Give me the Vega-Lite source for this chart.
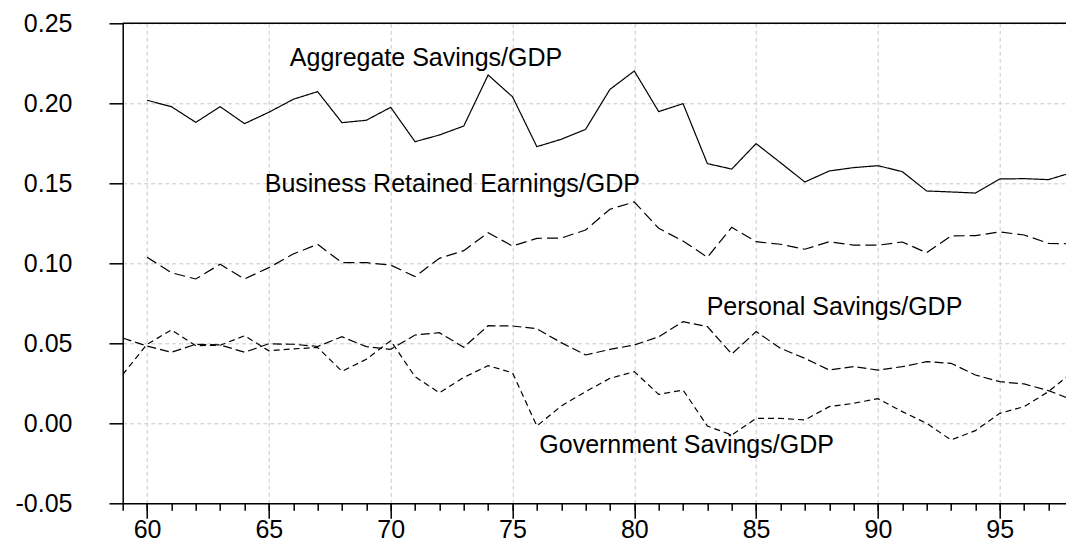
{
  "$schema": "https://vega.github.io/schema/vega-lite/v6.json",
  "width": 943.3,
  "height": 480,
  "autosize": {"type": "none"},
  "padding": {"left": 122.7, "top": 23.3, "right": 0, "bottom": 39.7},
  "background": "white",
  "config": {
    "view": {"stroke": null},
    "axis": {
      "labelFont": "Liberation Sans",
      "labelFontSize": 25,
      "labelColor": "black",
      "domainColor": "black",
      "domainWidth": 1.5,
      "tickColor": "black",
      "tickWidth": 1.5,
      "title": null
    }
  },
  "datasets": {
    "series": [
      {"year": 60, "series": "Aggregate", "value": 0.2019},
      {"year": 61, "series": "Aggregate", "value": 0.1979},
      {"year": 62, "series": "Aggregate", "value": 0.1881},
      {"year": 63, "series": "Aggregate", "value": 0.1979},
      {"year": 64, "series": "Aggregate", "value": 0.1873},
      {"year": 65, "series": "Aggregate", "value": 0.1944},
      {"year": 66, "series": "Aggregate", "value": 0.2025},
      {"year": 67, "series": "Aggregate", "value": 0.2073},
      {"year": 68, "series": "Aggregate", "value": 0.1879},
      {"year": 69, "series": "Aggregate", "value": 0.1894},
      {"year": 70, "series": "Aggregate", "value": 0.1975},
      {"year": 71, "series": "Aggregate", "value": 0.1760},
      {"year": 72, "series": "Aggregate", "value": 0.1802},
      {"year": 73, "series": "Aggregate", "value": 0.1858},
      {"year": 74, "series": "Aggregate", "value": 0.2177},
      {"year": 75, "series": "Aggregate", "value": 0.2041},
      {"year": 76, "series": "Aggregate", "value": 0.1729},
      {"year": 77, "series": "Aggregate", "value": 0.1775},
      {"year": 78, "series": "Aggregate", "value": 0.1837},
      {"year": 79, "series": "Aggregate", "value": 0.2087},
      {"year": 80, "series": "Aggregate", "value": 0.2202},
      {"year": 81, "series": "Aggregate", "value": 0.1948},
      {"year": 82, "series": "Aggregate", "value": 0.1998},
      {"year": 83, "series": "Aggregate", "value": 0.1623},
      {"year": 84, "series": "Aggregate", "value": 0.1589},
      {"year": 85, "series": "Aggregate", "value": 0.1748},
      {"year": 86, "series": "Aggregate", "value": 0.1629},
      {"year": 87, "series": "Aggregate", "value": 0.1508},
      {"year": 88, "series": "Aggregate", "value": 0.1577},
      {"year": 89, "series": "Aggregate", "value": 0.1598},
      {"year": 90, "series": "Aggregate", "value": 0.1610},
      {"year": 91, "series": "Aggregate", "value": 0.1573},
      {"year": 92, "series": "Aggregate", "value": 0.1452},
      {"year": 93, "series": "Aggregate", "value": 0.1446},
      {"year": 94, "series": "Aggregate", "value": 0.1439},
      {"year": 95, "series": "Aggregate", "value": 0.1527},
      {"year": 96, "series": "Aggregate", "value": 0.1529},
      {"year": 97, "series": "Aggregate", "value": 0.1523},
      {"year": 98, "series": "Aggregate", "value": 0.1569},
      {"year": 60, "series": "Business", "value": 0.1038},
      {"year": 61, "series": "Business", "value": 0.0941},
      {"year": 62, "series": "Business", "value": 0.0902},
      {"year": 63, "series": "Business", "value": 0.0994},
      {"year": 64, "series": "Business", "value": 0.0902},
      {"year": 65, "series": "Business", "value": 0.0973},
      {"year": 66, "series": "Business", "value": 0.1058},
      {"year": 67, "series": "Business", "value": 0.1119},
      {"year": 68, "series": "Business", "value": 0.1004},
      {"year": 69, "series": "Business", "value": 0.1004},
      {"year": 70, "series": "Business", "value": 0.0989},
      {"year": 71, "series": "Business", "value": 0.0917},
      {"year": 72, "series": "Business", "value": 0.1031},
      {"year": 73, "series": "Business", "value": 0.1079},
      {"year": 74, "series": "Business", "value": 0.1191},
      {"year": 75, "series": "Business", "value": 0.1108},
      {"year": 76, "series": "Business", "value": 0.1156},
      {"year": 77, "series": "Business", "value": 0.1158},
      {"year": 78, "series": "Business", "value": 0.1208},
      {"year": 79, "series": "Business", "value": 0.1338},
      {"year": 80, "series": "Business", "value": 0.1383},
      {"year": 81, "series": "Business", "value": 0.1219},
      {"year": 82, "series": "Business", "value": 0.1139},
      {"year": 83, "series": "Business", "value": 0.1038},
      {"year": 84, "series": "Business", "value": 0.1225},
      {"year": 85, "series": "Business", "value": 0.1135},
      {"year": 86, "series": "Business", "value": 0.1119},
      {"year": 87, "series": "Business", "value": 0.1088},
      {"year": 88, "series": "Business", "value": 0.1135},
      {"year": 89, "series": "Business", "value": 0.1114},
      {"year": 90, "series": "Business", "value": 0.1113},
      {"year": 91, "series": "Business", "value": 0.1133},
      {"year": 92, "series": "Business", "value": 0.1066},
      {"year": 93, "series": "Business", "value": 0.1171},
      {"year": 94, "series": "Business", "value": 0.1173},
      {"year": 95, "series": "Business", "value": 0.1196},
      {"year": 96, "series": "Business", "value": 0.1177},
      {"year": 97, "series": "Business", "value": 0.1125},
      {"year": 98, "series": "Business", "value": 0.1121},
      {"year": 59, "series": "Personal", "value": 0.0533},
      {"year": 60, "series": "Personal", "value": 0.0483},
      {"year": 61, "series": "Personal", "value": 0.0444},
      {"year": 62, "series": "Personal", "value": 0.0494},
      {"year": 63, "series": "Personal", "value": 0.0490},
      {"year": 64, "series": "Personal", "value": 0.0444},
      {"year": 65, "series": "Personal", "value": 0.0497},
      {"year": 66, "series": "Personal", "value": 0.0494},
      {"year": 67, "series": "Personal", "value": 0.0480},
      {"year": 68, "series": "Personal", "value": 0.0541},
      {"year": 69, "series": "Personal", "value": 0.0479},
      {"year": 70, "series": "Personal", "value": 0.0462},
      {"year": 71, "series": "Personal", "value": 0.0552},
      {"year": 72, "series": "Personal", "value": 0.0566},
      {"year": 73, "series": "Personal", "value": 0.0475},
      {"year": 74, "series": "Personal", "value": 0.0610},
      {"year": 75, "series": "Personal", "value": 0.0608},
      {"year": 76, "series": "Personal", "value": 0.0591},
      {"year": 77, "series": "Personal", "value": 0.0504},
      {"year": 78, "series": "Personal", "value": 0.0427},
      {"year": 79, "series": "Personal", "value": 0.0462},
      {"year": 80, "series": "Personal", "value": 0.0489},
      {"year": 81, "series": "Personal", "value": 0.0541},
      {"year": 82, "series": "Personal", "value": 0.0635},
      {"year": 83, "series": "Personal", "value": 0.0604},
      {"year": 84, "series": "Personal", "value": 0.0433},
      {"year": 85, "series": "Personal", "value": 0.0573},
      {"year": 86, "series": "Personal", "value": 0.0469},
      {"year": 87, "series": "Personal", "value": 0.0406},
      {"year": 88, "series": "Personal", "value": 0.0333},
      {"year": 89, "series": "Personal", "value": 0.0354},
      {"year": 90, "series": "Personal", "value": 0.0333},
      {"year": 91, "series": "Personal", "value": 0.0354},
      {"year": 92, "series": "Personal", "value": 0.0385},
      {"year": 93, "series": "Personal", "value": 0.0375},
      {"year": 94, "series": "Personal", "value": 0.0302},
      {"year": 95, "series": "Personal", "value": 0.0260},
      {"year": 96, "series": "Personal", "value": 0.0246},
      {"year": 97, "series": "Personal", "value": 0.0204},
      {"year": 98, "series": "Personal", "value": 0.0146},
      {"year": 59, "series": "Government", "value": 0.0305},
      {"year": 60, "series": "Government", "value": 0.0494},
      {"year": 61, "series": "Government", "value": 0.0583},
      {"year": 62, "series": "Government", "value": 0.0485},
      {"year": 63, "series": "Government", "value": 0.0488},
      {"year": 64, "series": "Government", "value": 0.0547},
      {"year": 65, "series": "Government", "value": 0.0453},
      {"year": 66, "series": "Government", "value": 0.0465},
      {"year": 67, "series": "Government", "value": 0.0474},
      {"year": 68, "series": "Government", "value": 0.0325},
      {"year": 69, "series": "Government", "value": 0.0400},
      {"year": 70, "series": "Government", "value": 0.0516},
      {"year": 71, "series": "Government", "value": 0.0291},
      {"year": 72, "series": "Government", "value": 0.0191},
      {"year": 73, "series": "Government", "value": 0.0287},
      {"year": 74, "series": "Government", "value": 0.0360},
      {"year": 75, "series": "Government", "value": 0.0316},
      {"year": 76, "series": "Government", "value": -0.0017},
      {"year": 77, "series": "Government", "value": 0.0108},
      {"year": 78, "series": "Government", "value": 0.0198},
      {"year": 79, "series": "Government", "value": 0.0281},
      {"year": 80, "series": "Government", "value": 0.0323},
      {"year": 81, "series": "Government", "value": 0.0181},
      {"year": 82, "series": "Government", "value": 0.0208},
      {"year": 83, "series": "Government", "value": -0.0017},
      {"year": 84, "series": "Government", "value": -0.0073},
      {"year": 85, "series": "Government", "value": 0.0031},
      {"year": 86, "series": "Government", "value": 0.0031},
      {"year": 87, "series": "Government", "value": 0.0021},
      {"year": 88, "series": "Government", "value": 0.0104},
      {"year": 89, "series": "Government", "value": 0.0125},
      {"year": 90, "series": "Government", "value": 0.0154},
      {"year": 91, "series": "Government", "value": 0.0073},
      {"year": 92, "series": "Government", "value": 0.0000},
      {"year": 93, "series": "Government", "value": -0.0104},
      {"year": 94, "series": "Government", "value": -0.0046},
      {"year": 95, "series": "Government", "value": 0.0062},
      {"year": 96, "series": "Government", "value": 0.0104},
      {"year": 97, "series": "Government", "value": 0.0198},
      {"year": 98, "series": "Government", "value": 0.0320}
    ],
    "labels": [
      {"x": 65.86, "y": 0.2233, "label": "Aggregate Savings/GDP"},
      {"x": 64.83, "y": 0.1444, "label": "Business Retained Earnings/GDP"},
      {"x": 82.97, "y": 0.0677, "label": "Personal Savings/GDP"},
      {"x": 76.10, "y": -0.0186, "label": "Government Savings/GDP"}
    ]
  },
  "resolve": {"axis": {"x": "independent"}},
  "layer": [
    {
      "data": {"name": "series"},
      "mark": {"type": "line", "color": "black", "strokeWidth": 1.2, "clip": true},
      "encoding": {
        "x": {
          "field": "year",
          "type": "quantitative",
          "scale": {"domain": [59, 97.72], "nice": false, "zero": false},
          "axis": {
            "title": null,
            "orient": "bottom",
            "values": [60, 65, 70, 75, 80, 85, 90, 95],
            "tickSize": 15,
            "labelPadding": -0.5,
            "labelDx": -8,
            "labelFlush": false,
            "grid": true,
            "gridColor": "#c8c8c8",
            "gridDash": [4, 3],
            "gridWidth": 1
          }
        },
        "y": {
          "field": "value",
          "type": "quantitative",
          "scale": {"domain": [-0.05, 0.25], "nice": false, "zero": false},
          "axis": {
            "title": null,
            "orient": "left",
            "values": [-0.05, 0, 0.05, 0.1, 0.15, 0.2, 0.25],
            "labelExpr": "replace(format(datum.value, '.2f'), '\u2212', '-')",
            "tickSize": 13.7,
            "labelPadding": 37,
            "labelFlush": false,
            "grid": true,
            "gridColor": "#c8c8c8",
            "gridDash": [4, 3],
            "gridWidth": 1
          }
        },
        "detail": {"field": "series"},
        "strokeDash": {
          "field": "series",
          "type": "nominal",
          "scale": {
            "domain": ["Aggregate", "Business", "Personal", "Government"],
            "range": [[1, 0], [11, 5], [9, 4], [6, 4]]
          },
          "legend": null
        }
      }
    },
    {
      "data": {"name": "labels"},
      "mark": {"type": "text", "align": "left", "baseline": "alphabetic", "font": "Liberation Sans", "fontSize": 25, "color": "black"},
      "encoding": {
        "x": {
          "field": "x",
          "type": "quantitative",
          "axis": {
            "title": null,
            "orient": "bottom",
            "values": [59, 60, 61, 62, 63, 64, 65, 66, 67, 68, 69, 70, 71, 72, 73, 74, 75, 76, 77, 78, 79, 80, 81, 82, 83, 84, 85, 86, 87, 88, 89, 90, 91, 92, 93, 94, 95, 96, 97],
            "tickSize": 7,
            "labels": false,
            "domain": false,
            "grid": false
          }
        },
        "y": {"field": "y", "type": "quantitative"},
        "text": {"field": "label"}
      }
    },
    {
      "data": {"values": [{}]},
      "mark": {"type": "rule", "color": "black", "strokeWidth": 1.5},
      "encoding": {"y": {"datum": 0.25}}
    }
  ]
}
